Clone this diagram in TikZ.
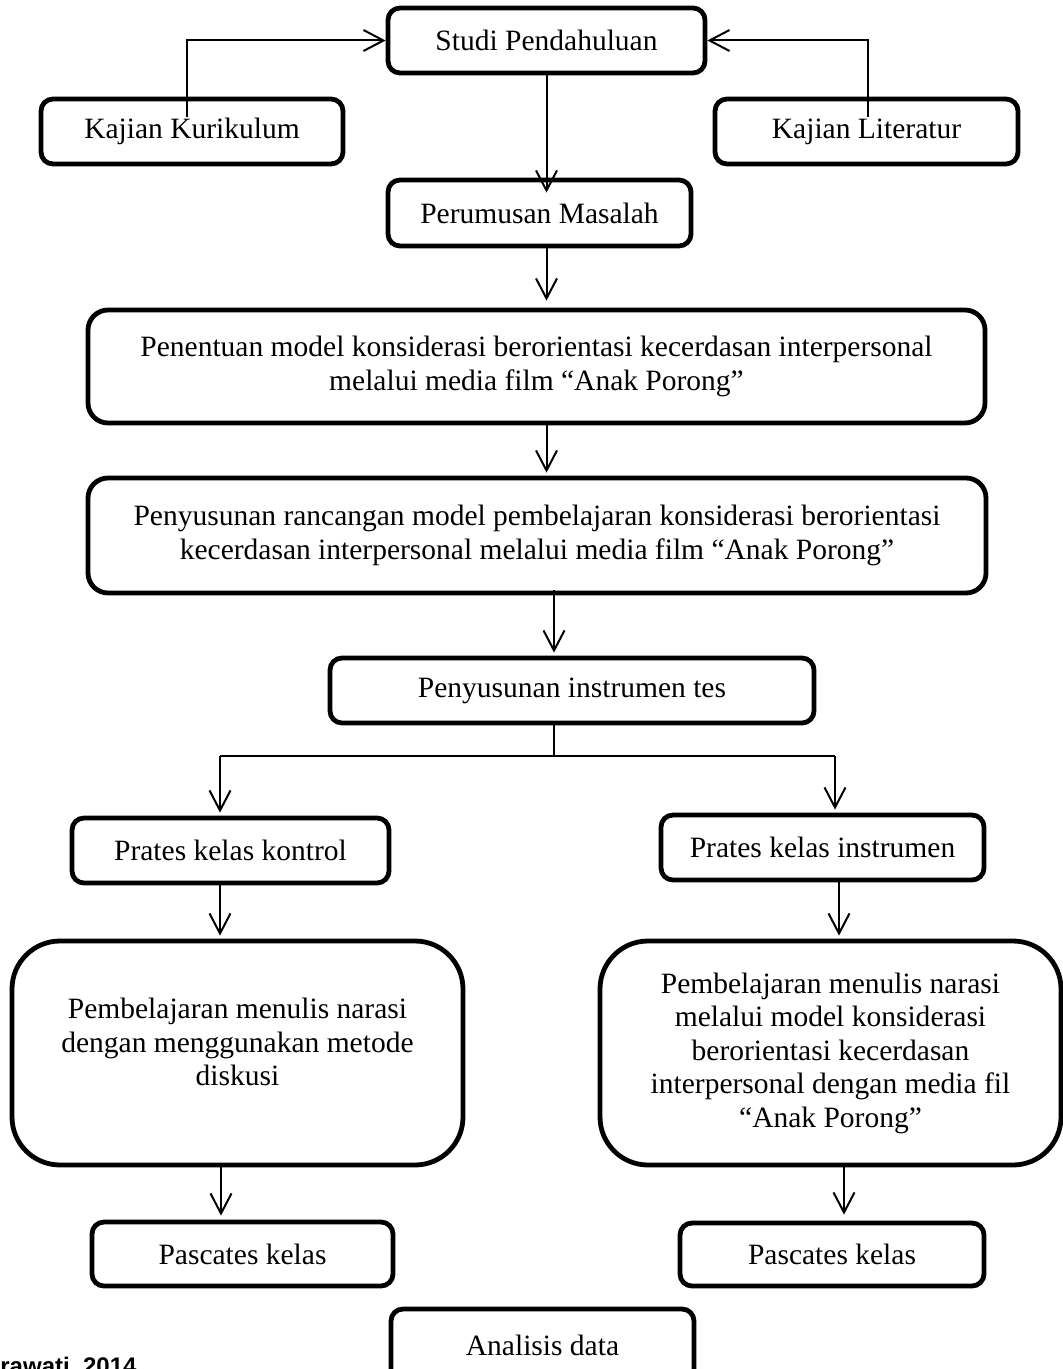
\documentclass[tikz,border=0pt]{standalone}
\usepackage{fontspec}
\setmainfont{Liberation Serif}
\newfontfamily\capfont{Liberation Sans}
\usetikzlibrary{arrows.meta,calc}
\begin{document}
\begin{tikzpicture}[x=0.5pt,y=-0.5pt,
  sz/.style 2 args={minimum width=#1*0.5pt, minimum height=#2*0.5pt},
  box/.style={draw, line width=2.4pt, rounded corners=6pt, inner sep=0pt,
    font=\fontsize{14.75pt}{16.75pt}\selectfont, align=center},
  bigbox/.style={box, rounded corners=10pt},
  roundbox/.style={box, rounded corners=24pt},
  arr/.style={line width=1pt, -{Straight Barb[length=10pt,width=10.5pt]}},
  plain/.style={line width=1pt}]
\useasboundingbox (0,0) rectangle (1063,1369);
\clip (0,0) rectangle (1063,1369);

\node[box, sz={317}{65}] (studi) at (546.5,40.5) {Studi Pendahuluan};
\node[box, sz={302}{65}] (kurikulum) at (192,131.5) {Kajian Kurikulum};
\node[box, sz={303}{65}] (literatur) at (866.5,131.5) {Kajian Literatur};
\node[box, sz={303}{66}] (perumusan) at (539.5,213) {Perumusan Masalah};
\node[bigbox, sz={897}{113}] (penentuan) at (536.5,366.5)
  {Penentuan model konsiderasi berorientasi kecerdasan interpersonal\\melalui media film “Anak Porong”};
\node[bigbox, sz={898}{115}] (rancangan) at (537,535.5)
  {Penyusunan rancangan model pembelajaran konsiderasi berorientasi\\kecerdasan interpersonal melalui media film “Anak Porong”};
\node[box, sz={484}{65}] (tes) at (572,690.5) {Penyusunan instrumen tes};
\node[box, sz={317}{65}] (kontrol) at (230.5,850.5) {Prates kelas kontrol};
\node[box, sz={323}{65}] (prinstr) at (822.5,847.5) {Prates kelas instrumen};
\node[roundbox, sz={451}{224}] (pemkiri) at (237.5,1053)
  {Pembelajaran menulis narasi\\dengan menggunakan metode\\diskusi\\[-5.75pt]\mbox{}};
\node[roundbox, sz={461}{224}] (pemkanan) at (830.5,1053)
  {Pembelajaran menulis narasi\\melalui model konsiderasi\\berorientasi kecerdasan\\interpersonal dengan media fil\\“Anak Porong”};
\node[box, sz={301}{64}] (paskiri) at (242.5,1254) {Pascates kelas};
\node[box, sz={304}{63}] (paskanan) at (832,1254.5) {Pascates kelas};
\node[box, sz={303}{72}] (analisis) at (542.5,1345) {Analisis data};
\node[anchor=base west, inner sep=0pt,
  font=\capfont\bfseries\fontsize{12pt}{14pt}\selectfont] (sumber) at (0,1374) {rawati, 2014};

% connectors
\coordinate (ka) at (187,117);
\coordinate (la) at (868,117);
\draw[arr] (ka) |- (studi.west);
\draw[arr] (la) |- (studi.east);
\draw[arr, shorten >=-7.5pt] (studi.south) -- (studi.south |- perumusan.north);
\draw[arr, shorten >=3.5pt] (studi.south |- perumusan.south) -- (studi.south |- penentuan.north);
\draw[arr, shorten >=1.5pt] (studi.south |- penentuan.south) -- (studi.south |- rancangan.north);
\coordinate (col) at (554,0);
\draw[arr, shorten <=-2.5pt, shorten >=1.5pt] (col |- rancangan.south) -- (col |- tes.north);
\coordinate (split) at (554,756);
\coordinate (lb) at (220,756);
\coordinate (rb) at (835,756);
\draw[plain] (col |- tes.south) -- (split);
\draw[plain] (lb) -- (rb);
\draw[arr, shorten >=1.5pt] (lb) -- (lb |- kontrol.north);
\draw[arr, shorten >=1.5pt] (rb) -- (rb |- prinstr.north);
\coordinate (c1) at (220,0);
\coordinate (c2) at (839,0);
\coordinate (c3) at (221,0);
\coordinate (c4) at (844,0);
\draw[arr, shorten >=1.5pt] (c1 |- kontrol.south) -- (c1 |- pemkiri.north);
\draw[arr, shorten >=1.5pt] (c2 |- prinstr.south) -- (c2 |- pemkanan.north);
\draw[arr, shorten >=2pt] (c3 |- pemkiri.south) -- (c3 |- paskiri.north);
\draw[arr, shorten >=3pt] (c4 |- pemkanan.south) -- (c4 |- paskanan.north);
\end{tikzpicture}
\end{document}
